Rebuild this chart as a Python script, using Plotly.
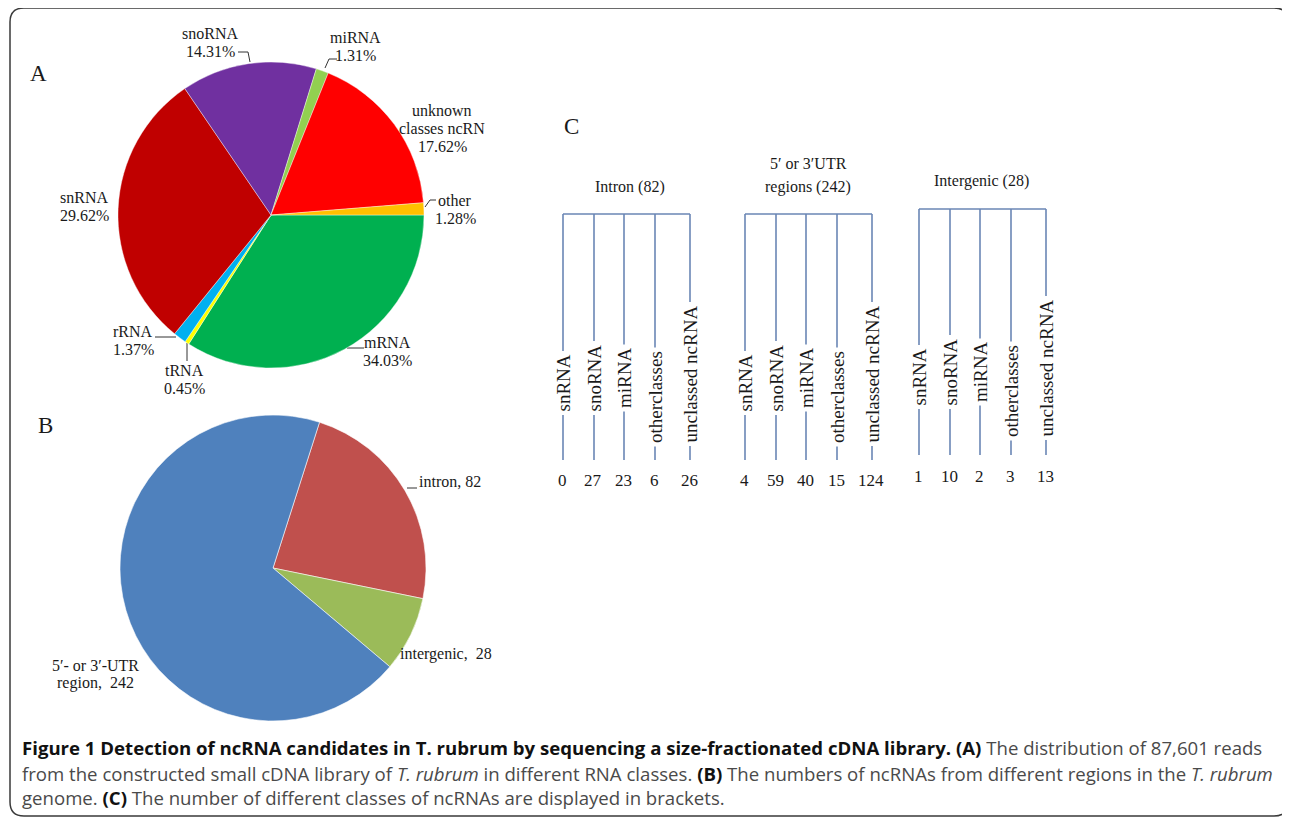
import plotly.graph_objects as go

W, H = 1290, 818
OFF = 8  # page body margin: map data coordinates to page pixels

# ---------------- data ----------------
# Panel A: distribution of reads over RNA classes (%)
a_names = ["mRNA", "tRNA", "rRNA", "snRNA", "snoRNA", "miRNA", "unknown classes ncRN", "other"]
a_label_lines = [["mRNA"], ["tRNA"], ["rRNA"], ["snRNA"], ["snoRNA"], ["miRNA"],
                 ["unknown", "classes ncRN"], ["other"]]
a_pct = [34.03, 0.45, 1.37, 29.62, 14.31, 1.31, 17.62, 1.28]
a_colors = ["#00B050", "#FFFF00", "#00B0F0", "#C00000", "#7030A0", "#92D050", "#FF0000", "#FFC000"]

# Panel B: ncRNAs by genomic region
b_names = ["intron", "intergenic", "5′- or 3′-UTR region"]
b_values = [82, 28, 242]
b_colors = ["#C0504D", "#9BBB59", "#4F81BD"]

# Panel C: classes of ncRNAs in each region
c_groups = ["Intron", "5′ or 3′UTR regions", "Intergenic"]
c_group_totals = [82, 242, 28]
c_classes = ["snRNA", "snoRNA", "miRNA", "otherclasses", "unclassed ncRNA"]
c_intron = [0, 27, 23, 6, 26]
c_utr = [4, 59, 40, 15, 124]
c_intergenic = [1, 10, 2, 3, 13]

caption_lines = [
    "<b><span style='color:#111'>Figure 1 Detection of ncRNA candidates in T. rubrum by sequencing a size-fractionated cDNA library. (A)</span></b> The distribution of 87,601 reads",
    "from the constructed small cDNA library of <i>T. rubrum</i> in different RNA classes. <b><span style='color:#111'>(B)</span></b> The numbers of ncRNAs from different regions in the <i>T. rubrum</i>",
    "genome. <b><span style='color:#111'>(C)</span></b> The number of different classes of ncRNAs are displayed in brackets.",
]

# ---------------- layout helpers ----------------
SERIF = "Liberation Serif, Times New Roman, serif"
TXT = "#1a1a1a"


def dom(cx, cy, r):
    return dict(x=[(cx - r - OFF) / W, (cx + r - OFF) / W],
                y=[1 - (cy + r - OFF) / H, 1 - (cy - r - OFF) / H])


fig = go.Figure()

# Pie A
fig.add_trace(go.Pie(
    labels=a_names, values=a_pct, sort=False, direction="clockwise", rotation=90,
    marker=dict(colors=a_colors, line=dict(color="rgba(255,255,255,0.55)", width=0.7)),
    textinfo="none", domain=dom(271, 215, 153), showlegend=False, hoverinfo="label+percent",
))

# Pie B
fig.add_trace(go.Pie(
    labels=b_names, values=b_values, sort=False, direction="clockwise", rotation=17.7,
    marker=dict(colors=b_colors, line=dict(color="rgba(255,255,255,0.7)", width=0.8)),
    textinfo="none", domain=dom(273, 568, 153), showlegend=False, hoverinfo="label+value",
))

annotations = []
shapes = []


def txt(x, y, s, size=15, font=SERIF, color=TXT, **kw):
    d = dict(x=x, y=y, xref="x", yref="y", text=s, showarrow=False,
             font=dict(family=font, size=size, color=color))
    d.update(kw)
    annotations.append(d)


def leader(pts):
    xs = [p[0] for p in pts]
    ys = [p[1] for p in pts]
    fig.add_trace(go.Scatter(x=xs, y=ys, mode="lines", line=dict(color="#333", width=1),
                             hoverinfo="skip", showlegend=False))


# Pie A labels (placement of each class label)
a_label_pos = [(387, 342), (184, 370), (133, 331), (84, 197), (210, 33), (355, 37), (442, 110), (455, 200)]
for lines, pct, (cx, y0) in zip(a_label_lines, a_pct, a_label_pos):
    all_lines = lines + [f"{pct:.2f}%"]
    for k, s in enumerate(all_lines):
        txt(cx, y0 + 18 * k, s, size=16)

leader([(347, 348), (364, 348)])           # mRNA
leader([(187, 343), (187, 361)])           # tRNA
leader([(155, 337), (176, 337)])           # rRNA
leader([(238, 52), (248, 52), (250, 62)])  # snoRNA
leader([(337, 59), (329, 59), (325, 68)])  # miRNA
leader([(425, 207), (430, 200), (436, 200)])  # other

# Pie B labels
txt(450, 481, f"{b_names[0]}, {b_values[0]}", size=16)
txt(446, 654, f"{b_names[1]},  {b_values[1]}", size=16)
txt(95, 665, "5′- or 3′-UTR", size=16)
txt(95, 683, f"region,  {b_values[2]}", size=16)
leader([(407, 488), (417, 488)])

# Panel letters
txt(38, 73, "A", size=23)
txt(45, 425, "B", size=23)
txt(571, 126, "C", size=23)

# Panel C trees
group_x0 = [563, 745, 919]
offsets = [0, 31, 61, 92, 127]
tops = [214, 214, 209]
bottoms = [460, 460, 455]
shift = [0, 0, -6]
label_base = [416, 416, 412, 447, 447]
num_y = [480, 480, 476]
title_pos = [(630, [187]), (808, [163, 187]), (981, [181])]
title_lines = [
    [f"{c_groups[0]} ({c_group_totals[0]})"],
    ["5′ or 3′UTR", f"regions ({c_group_totals[1]})"],
    [f"{c_groups[2]} ({c_group_totals[2]})"],
]
LINE = "#6A86B5"
for g, counts in enumerate([c_intron, c_utr, c_intergenic]):
    xs = [group_x0[g] + o for o in offsets]
    lx, ly = [xs[0], xs[-1], None], [tops[g], tops[g], None]
    for x in xs:
        lx += [x, x, None]
        ly += [tops[g], bottoms[g], None]
    fig.add_trace(go.Scatter(x=lx, y=ly, mode="lines", line=dict(color=LINE, width=1.6),
                             hoverinfo="skip", showlegend=False))
    for i, (x, cls, n) in enumerate(zip(xs, c_classes, counts)):
        annotations.append(dict(
            x=x, y=label_base[i] + shift[g], xref="x", yref="y", text=cls, showarrow=False,
            textangle=-90, xanchor="center", yanchor="bottom", bgcolor="white", borderpad=3,
            font=dict(family=SERIF, size=19, color=TXT)))
        txt(x - 1, num_y[g], str(n), size=17)
    cx, ys = title_pos[g]
    for s, y in zip(title_lines[g], ys):
        txt(cx, y, s, size=16)

# Caption
cap_y = [747, 773, 797]
for s, y in zip(caption_lines, cap_y):
    txt(20, y, s, size=18.6, font="Open Sans, sans-serif", color="#4a4a4a", xanchor="left")

# Rounded frame
r = 14
L, T, R, B = 10, 8, 1288, 816
path = (f"M {L + r},{T} L {R - r},{T} Q {R},{T} {R},{T + r} L {R},{B - r} Q {R},{B} {R - r},{B} "
        f"L {L + r},{B} Q {L},{B} {L},{B - r} L {L},{T + r} Q {L},{T} {L + r},{T} Z")
shapes.append(dict(type="path", path=path, xref="x", yref="y",
                   line=dict(color="#3a3a3a", width=1.5), layer="below"))

fig.update_layout(
    width=W, height=H, margin=dict(l=0, r=0, t=0, b=0),
    paper_bgcolor="white", plot_bgcolor="rgba(0,0,0,0)",
    xaxis=dict(range=[OFF, W + OFF], visible=False, domain=[0, 1], fixedrange=True),
    yaxis=dict(range=[H + OFF, OFF], visible=False, domain=[0, 1], fixedrange=True),
    annotations=annotations, shapes=shapes, showlegend=False,
)

fig.write_html("out.html")
